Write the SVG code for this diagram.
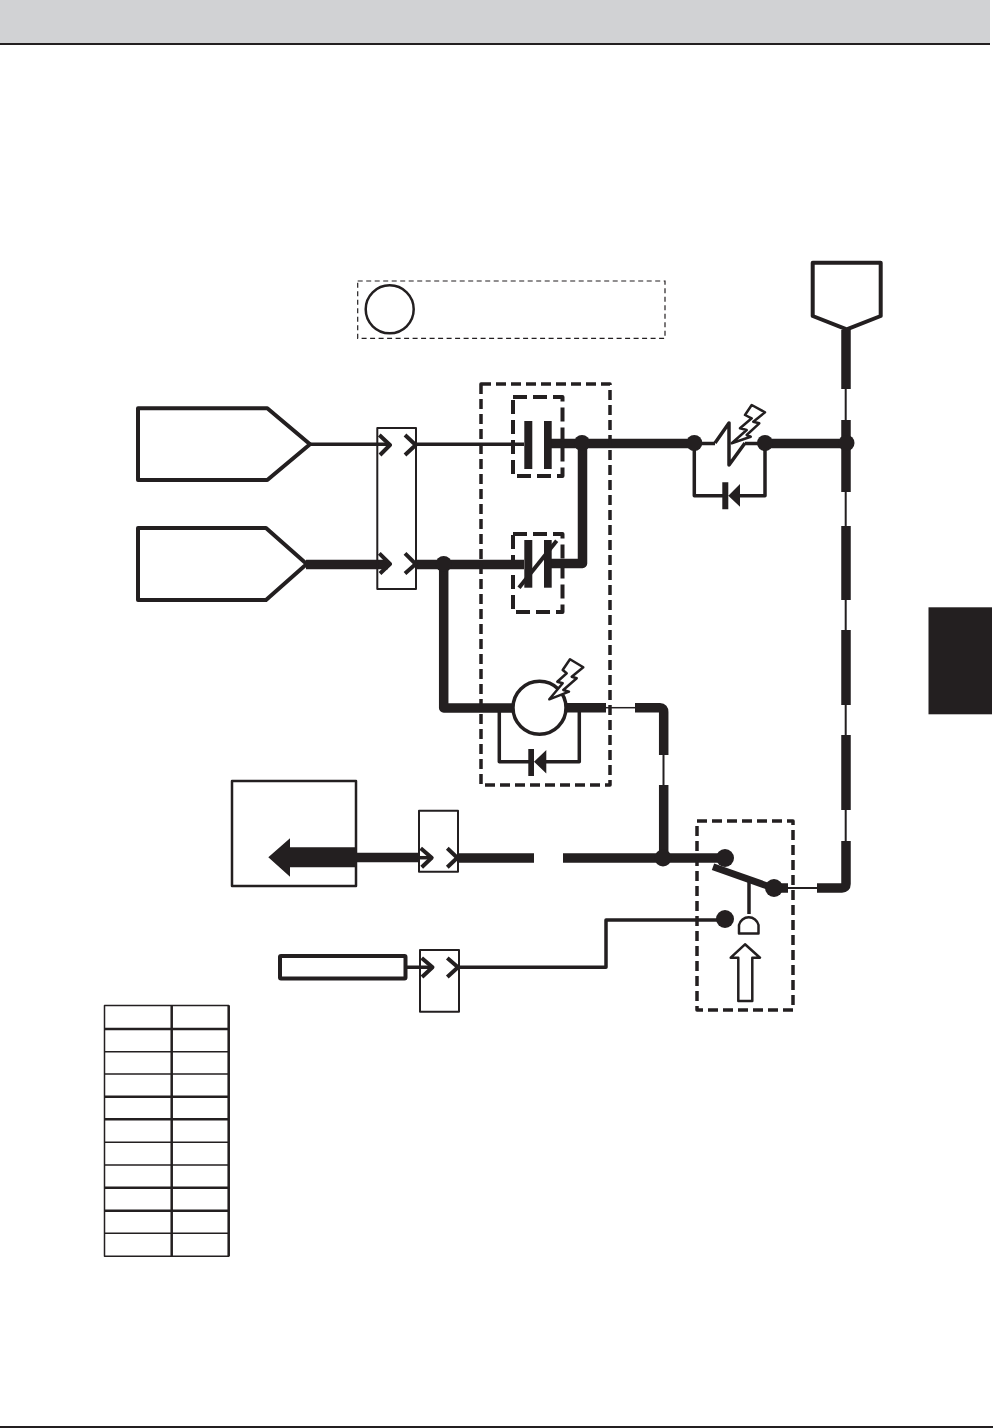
<svg xmlns="http://www.w3.org/2000/svg" width="993" height="1428" viewBox="0 0 993 1428">
<style>
.box{fill:#fff;stroke:#231f20;stroke-linejoin:round}
.w{fill:none;stroke:#231f20;stroke-linejoin:round}
.t1{stroke-width:1.500}.t2{stroke-width:2}.t25{stroke-width:2.500}.t3{stroke-width:3.500}.t4{stroke-width:4}.t7{stroke-width:7}.t9{stroke-width:9.500}
.outer{fill:none;stroke:#231f20;stroke-width:3.500;stroke-dasharray:10 5;stroke-linejoin:round}
.inner{fill:none;stroke:#231f20;stroke-width:4;stroke-dasharray:14 6;stroke-linejoin:round}
.dot{fill:#231f20}
.bar{fill:#231f20}
</style>
<rect x="0" y="0" width="990" height="43" fill="#d1d2d4"/>
<rect x="0" y="43" width="990" height="2" fill="#231f20"/>
<line x1="0" y1="1427" x2="993" y2="1427" stroke="#231f20" stroke-width="2"/>
<rect id="side-tab" x="928.500" y="607.300" width="63.500" height="107" fill="#231f20"/>

<g id="note"><rect x="357.700" y="281" width="307.300" height="57.300" fill="none" stroke="#231f20" stroke-width="1.200" stroke-dasharray="5 3.500"/><circle cx="389.700" cy="309.300" r="24" fill="#fff" stroke="#231f20" stroke-width="2.500"/></g>
<g id="node-top"><path class="box t4" d="M812.700 262.700H880.700V316L846.700 329.300L812.700 316Z"/></g>
<g id="node-in1"><path class="box t4" d="M138 408.300H267.300L310 444.300L267.300 480H138Z"/></g>
<g id="node-in2"><path class="box t4" d="M138 528H266L306.700 564L266 600H138Z"/></g>
<g id="node-dest"><rect class="box t25" x="232" y="781" width="124" height="105"/></g>
<g id="node-sensor"><rect class="box t4" x="280" y="956" width="125.500" height="22.500" rx="1"/></g>

<g id="connectors">
<path class="w t3" d="M310 444.300H390M416 444.300H524"/>
<path class="w t9" d="M306 564.500H388M416 564.500H524"/>
<path class="w t9" d="M443.700 564V708H513"/>
<path class="w t9" d="M548 443.500H692M765 443.500H846"/>
<path class="w t9" d="M548 563.500H582.500V443"/>
<path class="w t3" d="M695 443.500H715M745 443.500H765M694.300 444V495.700H723M765 444V495.700H738"/>
<path class="w t3" d="M499.300 709V761.700H529M579.300 709V761.700H543"/>
<path class="w t9" d="M566 707.700H606"/>
<path class="w t1" d="M606 707.700H636"/>
<path class="w t9" d="M635 707.700H660Q663.700 707.700 663.700 712V755"/>
<path class="w t2" d="M663.500 755V785"/>
<path class="w t9" d="M663.700 785V858"/>
<path class="w t9" d="M356 857.500H420"/>
<path class="w t3" d="M420 857.700H431"/>
<path class="w t9" d="M458 858H534M563 858H640"/>
<path class="w t9" d="M640 858H724"/>
<path class="w t7" d="M713 866.700L773 888"/>
<path class="w t3" d="M749 882V914"/>
<path class="w t9" d="M773 888H788"/>
<path class="w t2" d="M788 888H818"/>
<path class="w t9" d="M817 888H842Q846 888 846 884V841"/>
<path class="w t2" d="M845.700 841V810M845.700 735V705M845.700 630V600M845.700 526V492M845.700 420V389"/>
<path class="w t9" d="M846 810V735M846 705V630M846 600V526M846 492V420M846 389V330"/>
<path class="w t3" d="M405 967.300H431M458 967.300H606V920H725"/>
</g>

<g id="junction-dots">
<circle class="dot" cx="443.700" cy="564" r="8"/>
<circle class="dot" cx="582" cy="443" r="8"/>
<circle class="dot" cx="694.300" cy="443" r="8"/>
<circle class="dot" cx="765" cy="443" r="8"/>
<circle class="dot" cx="846.500" cy="443" r="8"/>
<circle class="dot" cx="663" cy="858" r="8.500"/>
<circle class="dot" cx="725" cy="858" r="9"/>
<circle class="dot" cx="774" cy="888" r="9"/>
<circle class="dot" cx="725" cy="919" r="9"/>
</g>

<g id="connector-1"><rect class="w t2" x="377.300" y="428" width="38.700" height="161"/><path class="w t4" d="M379.300 435L390 445L380 455M405 435L415.700 445L405 455M379.300 553.300L390 564L380 573.500M405 553.300L415.700 564L405 573.500"/></g>
<g id="connector-2"><rect class="w t2" x="419" y="810.700" width="39" height="61"/><path class="w t4" d="M420.700 848.300L431.700 857.700L421.700 867.300M447.300 848.300L457.300 857.700L447.300 867.300"/></g>
<g id="connector-3"><rect class="w t2" x="420" y="950" width="39" height="61.700"/><path class="w t4" d="M421.700 958L432.500 967.300L422 977M447.300 958L458 967.300L447.300 977"/></g>

<g id="arrow-left"><path class="bar" d="M268.300 857.300L290 838.300V847.300H356V867.300H290V876.700Z"/></g>

<g id="contactor-group"><rect x="481" y="384" width="129" height="401" class="outer"/></g>
<g id="contact-1">
<rect x="513" y="397" width="49.500" height="79" class="inner"/>
<rect class="bar" x="524.300" y="421" width="8" height="48"/>
<rect class="bar" x="544" y="421" width="7.700" height="48"/>
</g>
<g id="contact-2">
<rect x="513" y="534" width="49.500" height="78" class="inner"/>
<rect class="bar" x="524.300" y="540" width="8" height="47.700"/>
<rect class="bar" x="544" y="540" width="7.700" height="47.700"/>
<path class="w t4" d="M519 587.700L556.700 540.700"/>
</g>
<g id="motor">
<circle cx="539.500" cy="707.700" r="26.500" fill="#fff" stroke="#231f20" stroke-width="3.500"/>
<path class="box t25" d="M549.300 699.300L562.700 683.300L557.300 681.700L566.700 673.300L562.700 670L570 659.300L583.300 667.300L571.700 676.700L576.700 678.300L563.300 690L569 691.700Z"/>
</g>
<g id="diode-motor"><path class="bar" d="M528.300 749H534V776H528.300ZM534 761.700L546.300 750V773.500Z"/></g>

<g id="fuse">
<path class="w t3" d="M715 443L729 423V465L745 443"/>
<path class="box t25" d="M731.700 443.300L746.700 430L740 428.300L751.700 418.300L745 415L751.700 405L765 412.300L753.300 421.700L759.300 423.300L746.700 435L750.700 436.700Z"/>
</g>
<g id="diode-fuse"><path class="bar" d="M722.300 482.300H728.300V509.300H722.300ZM728.300 495.700L740 484V506.700Z"/></g>

<g id="switch-group"><rect x="697" y="821" width="96" height="189" class="outer"/></g>
<g id="switch-actuator">
<path class="box t25" d="M739 933.500V925A10 10 0 0 1 758.500 925V933.500Z"/>
<path class="box t25" d="M738.300 1001V957.700H730.700L745 944.300L760 957.700H752.300V1001Z"/>
</g>

<g id="table">
<path class="w t1" d="M104.500 1005.500H228.700V1256.300H104.500ZM104.500 1051.700H228.700M104.500 1074H228.700M104.500 1142.300H228.700M104.500 1165H228.700M104.500 1233.300H228.700"/>
<path class="w t25" d="M171.700 1005.500V1256.300M228.700 1005.500V1256.300M104.500 1029H228.700M104.500 1096.700H228.700M104.500 1119.300H228.700M104.500 1187.700H228.700M104.500 1210.700H228.700"/>
</g>
</svg>
